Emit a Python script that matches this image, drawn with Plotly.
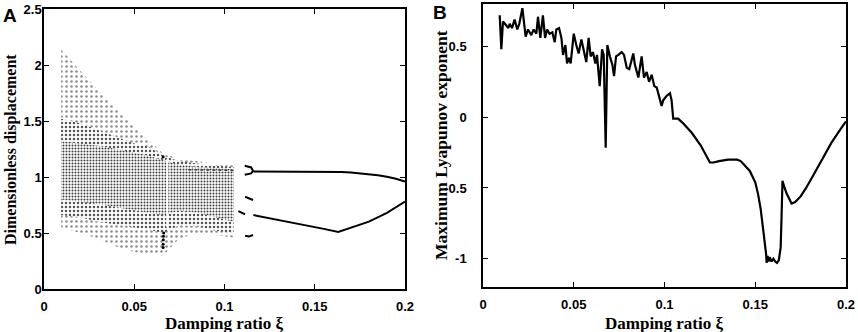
import plotly.graph_objects as go

# ---------------- data: panel A (bifurcation diagram) ----------------
cloud_x = [0.0095, 0.02, 0.03, 0.04, 0.05, 0.058, 0.066, 0.075, 0.085, 0.095, 0.105]
outer_upper = [2.14, 1.95, 1.78, 1.61, 1.45, 1.33, 1.21, 1.16, 1.14, 1.12, 1.11]
outer_lower = [0.55, 0.50, 0.45, 0.38, 0.33, 0.31, 0.30, 0.45, 0.50, 0.48, 0.46]
mid_upper = [1.52, 1.48, 1.42, 1.36, 1.30, 1.27, 1.19, 1.14, 1.12, 1.10, 1.09]
mid_lower = [0.66, 0.64, 0.60, 0.57, 0.55, 0.53, 0.50, 0.57, 0.56, 0.52, 0.50]
core_upper = [1.32, 1.30, 1.28, 1.25, 1.22, 1.19, 1.15, 1.11, 1.09, 1.08, 1.07]
core_lower = [0.80, 0.78, 0.76, 0.73, 0.70, 0.68, 0.66, 0.70, 0.68, 0.64, 0.60]

upper_branch_x = [0.116, 0.125, 0.135, 0.145, 0.155, 0.160, 0.165, 0.170, 0.175, 0.180, 0.185, 0.190, 0.195, 0.200]
upper_branch_y = [1.050, 1.050, 1.049, 1.048, 1.047, 1.047, 1.045, 1.040, 1.033, 1.025, 1.016, 1.003, 0.985, 0.960]
lower_branch_x = [0.116, 0.125, 0.135, 0.145, 0.155, 0.163, 0.170, 0.180, 0.190, 0.200]
lower_branch_y = [0.660, 0.633, 0.602, 0.569, 0.537, 0.510, 0.548, 0.602, 0.680, 0.780]

bracket_x = [0.1112, 0.1148, 0.1158, 0.1148, 0.1112]
bracket_y = [1.100, 1.085, 1.055, 1.032, 1.020]
dash1_x = [0.1114, 0.1158]
dash1_y = [0.824, 0.795]
dash2_x = [0.1077, 0.1114]
dash2_y = [0.696, 0.667]
dash3_x = [0.1114, 0.1135, 0.1158]
dash3_y = [0.476, 0.468, 0.482]
band_x = [0.080, 0.090, 0.100, 0.106]
band_y = [1.065, 1.062, 1.060, 1.058]
window_x = [0.0660, 0.0660, 0.0661, 0.0662, 0.0663, 0.0660]
window_y = [0.37, 0.40, 0.44, 0.47, 0.50, 1.18]
gap_x = [0.0683, 0.0683]
gap_y = [0.55, 1.16]

# ---------------- data: panel B (maximum Lyapunov exponent) ----------------
lyap_x = [0.0092, 0.0101, 0.0110, 0.0129, 0.0140, 0.0147, 0.0160, 0.0174, 0.0189, 0.0200,
          0.0217, 0.0235, 0.0248, 0.0266, 0.0279, 0.0294, 0.0303, 0.0316, 0.0330, 0.0342,
          0.0353, 0.0367, 0.0382, 0.0395, 0.0404, 0.0419, 0.0432, 0.0441, 0.0454, 0.0463,
          0.0474, 0.0483, 0.0500, 0.0514, 0.0527, 0.0542, 0.0556, 0.0569, 0.0582, 0.0593,
          0.0606, 0.0619, 0.0628, 0.0643, 0.0656, 0.0665, 0.0676, 0.0685, 0.0699, 0.0713,
          0.0722, 0.0733, 0.0746, 0.0764, 0.0777, 0.0792, 0.0806, 0.0828, 0.0837, 0.0856,
          0.0874, 0.0887, 0.0902, 0.0915, 0.0929, 0.0944, 0.0957, 0.0971, 0.0984, 0.0993,
          0.1011, 0.1030, 0.1039, 0.1048, 0.1075, 0.1100, 0.1150, 0.1200, 0.1250, 0.1270,
          0.1300, 0.1350, 0.1400, 0.1420, 0.1450, 0.1470, 0.1500, 0.1515, 0.1530, 0.1543,
          0.1555, 0.1560, 0.1563, 0.1568, 0.1575, 0.1580, 0.1590, 0.1600, 0.1610, 0.1620,
          0.1630, 0.1640, 0.1645, 0.1650, 0.1662, 0.1673, 0.1700, 0.1720, 0.1750, 0.1780,
          0.1820, 0.1870, 0.1920, 0.1970, 0.2000]
lyap_y = [0.72, 0.48, 0.676, 0.65, 0.63, 0.66, 0.63, 0.69, 0.62, 0.66,
          0.77, 0.57, 0.62, 0.58, 0.62, 0.59, 0.71, 0.56, 0.72, 0.56,
          0.62, 0.59, 0.60, 0.53, 0.62, 0.63, 0.56, 0.44, 0.51, 0.38,
          0.42, 0.38, 0.59, 0.51, 0.45, 0.55, 0.46, 0.39, 0.56, 0.43,
          0.46, 0.38, 0.44, 0.22, 0.48, 0.44, -0.216, 0.51, 0.43, 0.37,
          0.29, 0.43, 0.44, 0.46, 0.44, 0.35, 0.34, 0.45, 0.37, 0.28,
          0.43, 0.28, 0.32, 0.25, 0.30, 0.22, 0.21, 0.14, 0.08, 0.12,
          0.15, 0.17, 0.12, -0.01, -0.01, -0.04, -0.11, -0.20, -0.32, -0.32,
          -0.31, -0.30, -0.30, -0.31, -0.35, -0.38, -0.46, -0.54, -0.65, -0.78,
          -0.92, -0.97, -1.03, -0.98, -1.02, -0.99, -1.02, -1.00, -1.02, -1.03,
          -1.01, -0.92, -0.70, -0.45, -0.50, -0.54, -0.61, -0.60, -0.56, -0.50,
          -0.41, -0.29, -0.18, -0.085, -0.03]

x_tickvals = [0, 0.05, 0.1, 0.15, 0.2]
x_ticktext = ["0", "0.05", "0.1", "0.15", "0.2"]
ya_tickvals = [0, 0.5, 1, 1.5, 2, 2.5]
ya_ticktext = ["0", "0.5", "1", "1.5", "2", "2.5"]
yb_tickvals = [-1, -0.5, 0, 0.5]
yb_ticktext = ["-1", "-0.5", "0", "0.5"]

W, H = 858, 332

fig = go.Figure()


def band(upper, lower, fg, size, solidity):
    fig.add_trace(go.Scatter(
        x=cloud_x + cloud_x[::-1], y=upper + lower[::-1],
        fill="toself", mode="lines", line=dict(width=0, color="rgba(0,0,0,0)"),
        fillcolor="rgba(0,0,0,0)",
        fillpattern=dict(shape=".", fgcolor=fg, bgcolor="white", size=size, solidity=solidity),
        xaxis="x", yaxis="y", hoverinfo="skip"))


band(outer_upper, outer_lower, "#8c8c8c", 5, 0.20)
band(mid_upper, mid_lower, "#555555", 4, 0.30)
band(core_upper, core_lower, "#404040", 3, 0.36)

fig.add_trace(go.Scatter(x=gap_x, y=gap_y, mode="lines", line=dict(color="white", width=2),
                         xaxis="x", yaxis="y"))
fig.add_trace(go.Scatter(x=band_x, y=band_y, mode="lines", line=dict(color="#444444", width=1.5, dash="dot"),
                         xaxis="x", yaxis="y"))
fig.add_trace(go.Scatter(x=window_x, y=window_y, mode="markers", marker=dict(color="black", size=3),
                         xaxis="x", yaxis="y"))

for bx, by in [(upper_branch_x, upper_branch_y), (lower_branch_x, lower_branch_y),
               (bracket_x, bracket_y), (dash1_x, dash1_y), (dash2_x, dash2_y),
               (dash3_x, dash3_y)]:
    fig.add_trace(go.Scatter(x=bx, y=by, mode="lines", line=dict(color="black", width=2),
                             xaxis="x", yaxis="y"))

fig.add_trace(go.Scatter(x=lyap_x, y=lyap_y, mode="lines", line=dict(color="black", width=2.2),
                         xaxis="x2", yaxis="y2"))

tickfont = dict(family="Liberation Sans, Arial, sans-serif", size=13, color="black", weight="bold")
common = dict(showline=True, linecolor="black", linewidth=1.5, mirror="ticks", ticks="inside",
              ticklen=5, tickwidth=1.2, tickcolor="black", showgrid=False, zeroline=False,
              automargin=False, tickfont=tickfont)

fig.update_layout(
    template="none",
    width=W, height=H, margin=dict(l=0, r=0, t=0, b=0, autoexpand=False),
    paper_bgcolor="white", plot_bgcolor="white", showlegend=False,
    xaxis=dict(domain=[44 / W, 405 / W], range=[0, 0.2], anchor="y",
               tickvals=x_tickvals, ticktext=x_ticktext, ticklabelstandoff=5, **common),
    yaxis=dict(domain=[1 - 289 / H, 1 - 9 / H], range=[0, 2.5], anchor="x",
               tickvals=ya_tickvals, ticktext=ya_ticktext, ticklabelstandoff=-2, **common),
    xaxis2=dict(domain=[483 / W, 846 / W], range=[0, 0.2], anchor="y2",
                tickvals=x_tickvals, ticktext=x_ticktext, ticklabelstandoff=5, **common),
    yaxis2=dict(domain=[1 - 287 / H, 1 - 4 / H], range=[-1.2, 0.8], anchor="x2",
                tickvals=yb_tickvals, ticktext=yb_ticktext, ticklabelstandoff=12, **common),
)

serif_a = dict(family="Liberation Serif, Times New Roman, serif", size=16, color="black")
serif_b = dict(family="Liberation Serif, Times New Roman, serif", size=17.5, color="black")
serif_x = dict(family="Liberation Serif, Times New Roman, serif", size=17, color="black")
sans_big = dict(family="Liberation Sans, Arial, sans-serif", size=19, color="black")
annots = [
    dict(text="<b>A</b>", x=1 / W, y=1 - 3 / H, xanchor="left", yanchor="top", font=sans_big),
    dict(text="<b>B</b>", x=431 / W, y=1 - 0 / H, xanchor="left", yanchor="top", font=sans_big),
    dict(text="<b>Dimensionless displacement</b>", x=11 / W, y=1 - 150 / H, textangle=-90,
         xanchor="center", yanchor="middle", font=serif_a),
    dict(text="<b>Maximum Lyapunov exponent</b>", x=441 / W, y=1 - 145 / H, textangle=-90,
         xanchor="center", yanchor="middle", font=serif_b),
    dict(text="<b>Damping ratio ξ</b>", x=224 / W, y=1 - 323 / H,
         xanchor="center", yanchor="middle", font=serif_x),
    dict(text="<b>Damping ratio ξ</b>", x=664 / W, y=1 - 323 / H,
         xanchor="center", yanchor="middle", font=serif_x),
]
for a in annots:
    fig.add_annotation(xref="paper", yref="paper", showarrow=False, **a)

fig.write_html("out.html", config={"displayModeBar": False},
               post_script="document.body.style.margin='0';document.body.style.padding='0';"
                           "document.documentElement.style.overflow='hidden';")
